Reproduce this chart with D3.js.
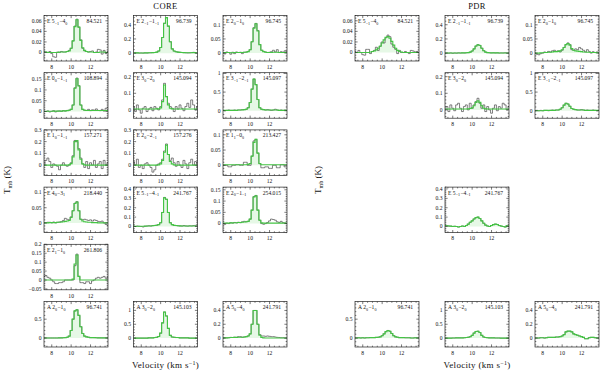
<!DOCTYPE html>
<html><head><meta charset="utf-8">
<script src="https://cdn.jsdelivr.net/npm/d3@7"></script>
<style>
body{margin:0;background:#fff}
svg{display:block}
text{font-family:"Liberation Serif","DejaVu Serif",serif;fill:#111}
</style>
</head><body>
<svg id="chart" width="600" height="372"></svg>
<script>
// ---------- DATA ----------
const velocity = [7.2,7.4,7.6,7.8,8.0,8.2,8.4,8.6,8.8,9.0,9.2,9.4,9.6,9.8,10.0,10.2,10.4,10.6,10.8,11.0,11.2,11.4,11.6,11.8,12.0,12.2,12.4,12.6,12.8,13.0,13.2,13.4,13.6,13.8];
const velocityTicks = [8,10,12];
const groupTitles = ["CORE","PDR"];

// CORE spectra (observed = grey, fit = green)
const coreE84521Obs = [0.002,0.001,0.000,0.002,-0.002,-0.008,-0.009,0.001,0.000,0.002,0.001,0.001,0.002,0.004,0.008,0.022,0.050,0.063,0.048,0.024,0.008,0.003,0.002,0.001,0.002,0.003,0.000,0.001,0.006,0.005,-0.003,0.004,-0.002,0.002];
const coreE84521Fit = [0.001,0.001,0.000,0.000,0.000,0.000,0.000,0.000,0.001,0.001,0.001,0.001,0.002,0.003,0.008,0.022,0.049,0.062,0.048,0.023,0.009,0.004,0.002,0.001,0.001,0.001,0.000,0.000,0.000,0.001,0.001,0.001,0.000,0.000];
const coreE96739Obs = [0.005,0.003,0.004,0.002,0.003,0.001,0.004,0.003,0.005,0.006,0.008,0.010,0.015,0.030,0.080,0.220,0.420,0.500,0.380,0.160,0.060,0.030,0.020,0.015,0.012,0.010,0.008,0.006,0.004,0.005,0.008,0.012,0.006,0.004];
const coreE96739Fit = [0.004,0.004,0.004,0.003,0.003,0.003,0.004,0.004,0.005,0.006,0.008,0.010,0.015,0.030,0.080,0.220,0.420,0.500,0.380,0.160,0.060,0.030,0.020,0.015,0.012,0.010,0.008,0.006,0.005,0.005,0.006,0.008,0.006,0.004];
const coreE96745Obs = [0.000,-0.003,0.004,0.002,-0.004,0.003,-0.002,0.004,0.002,0.003,-0.002,0.003,0.004,0.006,0.012,0.040,0.090,0.105,0.080,0.030,0.010,0.006,0.004,0.002,0.003,0.005,0.010,0.004,0.012,0.002,0.005,0.003,0.008,0.004];
const coreE96745Fit = [0.002,0.002,0.002,0.002,0.001,0.001,0.002,0.002,0.002,0.002,0.002,0.003,0.003,0.005,0.012,0.040,0.088,0.104,0.078,0.030,0.010,0.005,0.003,0.002,0.002,0.002,0.003,0.003,0.003,0.002,0.002,0.002,0.002,0.002];
const coreE108894Obs = [0.002,0.000,0.003,-0.002,0.001,0.004,-0.002,0.002,0.003,0.001,0.004,0.002,0.005,0.006,0.010,0.030,0.110,0.155,0.120,0.030,0.010,0.006,0.005,0.010,0.004,0.008,0.006,0.012,0.005,0.004,0.010,0.002,0.015,0.018];
const coreE108894Fit = [0.001,0.001,0.001,0.001,0.001,0.002,0.002,0.002,0.002,0.002,0.003,0.003,0.004,0.006,0.010,0.030,0.108,0.152,0.118,0.030,0.010,0.006,0.005,0.005,0.005,0.005,0.005,0.005,0.005,0.005,0.005,0.005,0.005,0.005];
const coreE145094Obs = [0.020,-0.010,0.030,0.000,-0.020,0.010,0.020,-0.010,0.005,0.015,-0.005,0.020,0.010,0.000,0.020,0.060,0.160,0.080,0.040,0.020,0.010,-0.010,0.020,0.005,0.030,0.010,-0.005,0.020,0.040,0.015,0.060,0.030,0.000,0.020];
const coreE145094Fit = [0.005,0.005,0.005,0.005,0.005,0.005,0.005,0.005,0.005,0.005,0.005,0.005,0.006,0.006,0.012,0.050,0.150,0.080,0.030,0.010,0.006,0.005,0.005,0.005,0.005,0.005,0.005,0.005,0.005,0.005,0.005,0.005,0.005,0.005];
const coreE145097Obs = [0.01,0.00,0.01,0.02,0.01,0.01,0.02,0.01,0.02,0.02,0.03,0.03,0.04,0.08,0.22,0.58,0.85,0.70,0.30,0.08,0.04,0.03,0.02,0.03,0.02,0.01,0.02,0.04,0.02,0.01,0.02,0.01,0.02,0.01];
const coreE145097Fit = [0.01,0.01,0.01,0.01,0.01,0.01,0.01,0.01,0.02,0.02,0.02,0.03,0.04,0.08,0.22,0.58,0.85,0.70,0.30,0.08,0.04,0.03,0.02,0.02,0.02,0.02,0.02,0.02,0.02,0.01,0.01,0.01,0.01,0.01];
const coreE157271Obs = [0.000,0.040,0.060,0.030,-0.020,0.010,0.000,-0.010,-0.040,0.000,0.020,0.000,-0.010,0.000,0.020,0.080,0.210,0.200,0.140,0.060,0.010,-0.020,0.030,-0.030,0.020,0.000,0.040,-0.020,0.010,0.030,-0.030,0.040,0.000,0.020];
const coreE157271Fit = [0.000,0.000,0.000,0.000,0.000,0.000,0.000,0.000,0.000,0.000,0.000,0.000,0.000,0.002,0.012,0.070,0.200,0.210,0.130,0.050,0.010,0.002,0.000,0.000,0.000,0.000,0.000,0.000,0.000,0.000,0.000,0.000,0.000,0.000];
const coreE157276Obs = [0.030,0.000,0.050,-0.020,0.000,-0.030,0.010,0.020,0.000,-0.020,-0.060,-0.040,0.000,0.010,0.020,0.050,0.120,0.180,0.090,0.040,0.060,0.020,-0.010,0.030,0.000,-0.020,0.040,0.010,-0.030,0.020,0.050,0.000,0.030,-0.010];
const coreE157276Fit = [0.000,0.000,0.000,0.000,0.000,0.000,0.000,0.000,0.000,0.000,0.000,0.000,0.000,0.002,0.010,0.040,0.110,0.170,0.090,0.030,0.010,0.002,0.000,0.000,0.000,0.000,0.000,0.000,0.000,0.000,0.000,0.000,0.000,0.000];
const coreE213427Obs = [0.000,0.000,0.000,-0.005,-0.005,0.000,0.000,0.002,0.002,0.000,0.000,0.010,0.010,0.000,0.000,0.030,0.080,0.085,0.040,0.005,-0.008,-0.008,-0.005,-0.005,-0.010,-0.010,0.000,0.000,-0.008,-0.008,0.002,0.002,-0.005,-0.005];
const coreE213427Fit = [0.002,0.002,0.002,0.002,0.002,0.002,0.002,0.002,0.002,0.002,0.002,0.002,0.002,0.003,0.006,0.030,0.075,0.085,0.040,0.006,0.002,0.002,0.002,0.002,0.002,0.002,0.002,0.002,0.002,0.002,0.002,0.002,0.002,0.002];
const coreE218440Obs = [0.000,0.000,0.002,0.002,0.000,0.003,0.000,0.002,0.003,0.004,0.008,0.015,0.012,0.010,0.020,0.040,0.065,0.070,0.040,0.012,0.010,0.012,0.010,0.008,0.010,0.006,0.010,0.008,0.005,0.004,0.006,0.000,-0.005,-0.008];
const coreE218440Fit = [0.000,0.000,0.000,0.001,0.001,0.001,0.001,0.002,0.002,0.003,0.004,0.005,0.006,0.008,0.018,0.040,0.064,0.069,0.040,0.012,0.006,0.004,0.003,0.002,0.002,0.001,0.001,0.001,0.000,0.000,0.000,0.000,0.000,0.000];
const coreE241767Obs = [0.005,0.000,0.005,0.002,0.000,-0.005,0.003,0.005,0.008,0.006,0.010,0.012,0.015,0.020,0.040,0.150,0.310,0.290,0.150,0.040,0.020,0.012,0.010,0.008,0.006,0.005,0.010,0.006,0.004,0.008,0.006,0.010,0.012,0.008];
const coreE241767Fit = [0.004,0.003,0.003,0.003,0.003,0.003,0.004,0.005,0.006,0.006,0.008,0.010,0.014,0.020,0.040,0.150,0.305,0.290,0.150,0.040,0.020,0.012,0.010,0.008,0.007,0.006,0.006,0.006,0.006,0.006,0.006,0.006,0.006,0.006];
const coreE254015Obs = [0.000,-0.003,0.002,0.000,0.004,0.002,0.005,0.003,0.006,0.004,0.008,0.010,0.008,0.010,0.020,0.060,0.120,0.125,0.060,0.015,0.000,-0.003,0.000,0.005,0.012,0.020,0.018,0.015,0.008,0.005,0.010,0.004,0.003,0.000];
const coreE254015Fit = [0.002,0.002,0.002,0.002,0.003,0.003,0.004,0.004,0.005,0.005,0.006,0.007,0.008,0.010,0.020,0.060,0.118,0.123,0.060,0.015,0.003,0.002,0.002,0.002,0.002,0.002,0.002,0.002,0.002,0.002,0.002,0.002,0.002,0.002];
const coreE261806Obs = [0.020,0.025,0.015,0.010,0.000,-0.010,-0.020,-0.020,-0.015,-0.015,-0.010,0.000,0.000,0.000,0.000,0.000,0.080,0.145,0.020,-0.015,-0.015,-0.020,-0.010,-0.010,-0.020,-0.005,0.000,0.010,0.015,0.010,0.015,0.020,0.010,0.015];
const coreE261806Fit = [0.000,0.000,0.000,0.000,0.000,0.000,0.000,0.000,0.000,0.000,0.000,0.000,0.000,0.000,0.000,0.005,0.090,0.140,0.020,0.000,0.000,0.000,0.000,0.000,0.000,0.000,0.000,0.000,0.000,0.000,0.000,0.000,0.000,0.000];
const coreA96741Obs = [0.000,0.000,0.000,0.000,0.000,0.000,0.000,0.000,0.002,0.004,0.006,0.010,0.020,0.050,0.200,0.500,0.720,0.750,0.600,0.300,0.120,0.050,0.030,0.020,0.010,0.010,0.008,0.005,0.004,0.003,0.002,0.002,0.001,0.001];
const coreA96741Fit = [0.000,0.000,0.000,0.000,0.000,0.000,0.000,0.000,0.002,0.004,0.006,0.010,0.020,0.050,0.200,0.500,0.720,0.750,0.600,0.300,0.120,0.050,0.030,0.020,0.010,0.010,0.008,0.005,0.004,0.003,0.002,0.002,0.001,0.001];
const coreA145103Obs = [0.00,0.00,0.00,0.00,0.00,0.00,0.00,0.00,0.01,0.01,0.01,0.02,0.03,0.06,0.18,0.55,0.94,0.80,0.35,0.10,0.04,0.03,0.02,0.02,0.01,0.01,0.01,0.01,0.01,0.00,0.00,0.00,0.00,0.00];
const coreA145103Fit = [0.00,0.00,0.00,0.00,0.00,0.00,0.00,0.00,0.01,0.01,0.01,0.02,0.03,0.06,0.18,0.55,0.94,0.80,0.35,0.10,0.04,0.03,0.02,0.02,0.01,0.01,0.01,0.01,0.01,0.00,0.00,0.00,0.00,0.00];
const coreA241791Obs = [0.000,0.002,0.003,0.005,0.010,0.008,0.012,0.010,0.020,0.020,0.012,0.015,0.020,0.030,0.060,0.200,0.400,0.400,0.200,0.050,0.030,0.030,0.025,0.030,0.025,0.020,0.020,0.015,0.010,0.008,0.005,0.005,0.000,0.000];
const coreA241791Fit = [0.000,0.002,0.003,0.005,0.008,0.008,0.010,0.010,0.012,0.012,0.012,0.015,0.020,0.030,0.060,0.200,0.400,0.400,0.200,0.040,0.010,0.002,0.000,0.000,0.000,0.000,0.000,0.000,0.000,0.000,0.000,0.000,0.000,0.000];

// PDR spectra
const pdrE84521Obs = [0.002,0.000,0.004,0.000,-0.004,-0.005,0.006,0.006,-0.002,0.002,0.004,0.010,0.004,0.012,0.020,0.018,0.028,0.033,0.030,0.016,0.010,0.006,-0.002,0.004,0.000,0.000,0.002,0.000,-0.002,0.004,0.003,0.001,0.002,0.000];
const pdrE84521Fit = [0.000,0.000,0.000,0.000,0.000,0.000,0.000,0.000,0.001,0.002,0.003,0.005,0.008,0.012,0.018,0.024,0.029,0.030,0.027,0.021,0.014,0.008,0.004,0.002,0.001,0.000,0.000,0.000,0.000,0.000,0.000,0.000,0.000,0.000];
const pdrE96739Obs = [0.000,0.003,0.000,0.004,-0.002,0.003,0.000,0.005,0.002,0.004,0.003,0.005,0.008,0.015,0.030,0.060,0.100,0.120,0.110,0.070,0.035,0.015,0.008,0.005,0.004,0.006,0.003,0.005,0.002,0.004,0.003,0.006,0.002,0.003];
const pdrE96739Fit = [0.002,0.002,0.002,0.002,0.002,0.002,0.002,0.003,0.003,0.004,0.004,0.005,0.008,0.015,0.030,0.060,0.100,0.118,0.108,0.070,0.035,0.015,0.008,0.005,0.004,0.004,0.004,0.004,0.003,0.003,0.003,0.003,0.003,0.003];
const pdrE96745Obs = [0.000,-0.004,-0.006,-0.002,0.000,0.004,0.002,0.006,0.004,0.008,0.010,0.006,0.008,0.004,0.010,0.020,0.030,0.036,0.030,0.012,0.010,0.015,0.012,0.020,0.015,0.010,0.004,0.012,0.006,0.000,0.005,0.002,0.004,0.000];
const pdrE96745Fit = [0.000,0.000,0.000,0.001,0.001,0.002,0.002,0.003,0.003,0.004,0.005,0.005,0.006,0.008,0.012,0.020,0.030,0.034,0.028,0.016,0.010,0.008,0.007,0.006,0.005,0.004,0.004,0.003,0.003,0.002,0.002,0.002,0.001,0.001];
const pdrE145094Obs = [0.000,0.020,-0.010,0.030,0.010,-0.005,0.030,0.040,0.010,-0.010,0.020,0.030,0.000,0.040,0.010,0.030,0.050,0.070,0.040,0.010,0.030,-0.010,0.020,0.000,-0.020,0.010,0.030,-0.005,0.020,0.010,0.040,0.030,0.000,0.020];
const pdrE145094Fit = [0.005,0.005,0.005,0.005,0.005,0.005,0.005,0.005,0.005,0.005,0.005,0.005,0.006,0.008,0.012,0.025,0.045,0.055,0.045,0.025,0.010,0.006,0.005,0.005,0.005,0.005,0.005,0.005,0.005,0.005,0.005,0.005,0.005,0.005];
const pdrE145097Obs = [0.00,0.01,0.00,0.01,0.00,0.01,0.01,0.00,0.01,0.02,0.01,0.02,0.02,0.04,0.08,0.15,0.20,0.18,0.12,0.06,0.04,0.03,0.02,0.02,0.03,0.02,0.01,0.02,0.01,0.01,0.02,0.01,0.00,0.01];
const pdrE145097Fit = [0.00,0.00,0.00,0.00,0.00,0.01,0.01,0.01,0.01,0.01,0.01,0.02,0.02,0.04,0.08,0.15,0.20,0.18,0.12,0.06,0.04,0.03,0.02,0.02,0.02,0.02,0.01,0.01,0.01,0.01,0.01,0.01,0.01,0.01];
const pdrE241767Obs = [0.010,0.008,0.005,0.004,0.000,0.002,0.000,-0.005,0.000,0.005,0.000,0.010,0.025,0.045,0.060,0.080,0.095,0.100,0.085,0.060,0.035,0.015,0.005,0.000,0.010,0.020,0.025,0.022,0.010,0.005,0.000,-0.005,0.008,0.005];
const pdrE241767Fit = [0.010,0.008,0.005,0.004,0.000,0.002,0.000,-0.005,0.000,0.005,0.000,0.010,0.025,0.045,0.060,0.080,0.095,0.100,0.085,0.060,0.035,0.015,0.005,0.000,0.010,0.020,0.025,0.022,0.010,0.005,0.000,-0.005,0.008,0.005];
const pdrA96741Obs = [0.000,0.000,0.005,0.000,0.005,0.000,0.005,0.005,0.010,0.010,0.010,0.015,0.020,0.030,0.060,0.110,0.170,0.200,0.180,0.120,0.060,0.030,0.020,0.010,0.010,0.010,0.005,0.005,0.005,0.000,0.000,0.005,0.000,0.000];
const pdrA96741Fit = [0.000,0.000,0.005,0.000,0.005,0.000,0.005,0.005,0.010,0.010,0.010,0.015,0.020,0.030,0.060,0.110,0.170,0.200,0.180,0.120,0.060,0.030,0.020,0.010,0.010,0.010,0.005,0.005,0.005,0.000,0.000,0.005,0.000,0.000];
const pdrA145103Obs = [0.000,0.000,0.000,0.000,0.005,0.005,0.010,0.010,0.010,0.010,0.015,0.020,0.030,0.050,0.100,0.180,0.240,0.250,0.200,0.100,0.040,0.020,0.015,0.010,0.010,0.010,0.005,0.005,0.005,0.000,0.000,0.000,0.000,0.000];
const pdrA145103Fit = [0.000,0.000,0.000,0.000,0.005,0.005,0.010,0.010,0.010,0.010,0.015,0.020,0.030,0.050,0.100,0.180,0.240,0.250,0.200,0.100,0.040,0.020,0.015,0.010,0.010,0.010,0.005,0.005,0.005,0.000,0.000,0.000,0.000,0.000];
const pdrA241791Obs = [0.000,0.000,0.000,0.005,0.005,0.000,0.005,0.010,0.010,0.010,0.010,0.015,0.015,0.020,0.030,0.050,0.090,0.100,0.100,0.090,0.060,0.050,0.040,0.030,0.020,0.010,-0.010,-0.010,0.005,0.010,0.010,0.005,0.000,0.000];
const pdrA241791Fit = [0.000,0.000,0.000,0.005,0.005,0.000,0.005,0.010,0.010,0.010,0.010,0.015,0.015,0.020,0.030,0.050,0.090,0.100,0.100,0.090,0.060,0.050,0.040,0.030,0.020,0.010,-0.010,-0.010,0.005,0.010,0.010,0.005,0.000,0.000];

// Transition labels, frequencies (GHz), y-ranges and y tick labels per line
const lineLabels = {
  E84521:"E 5_{−1}−4_{0}", E96739:"E 2_{−1}−1_{−1}", E96745:"E 2_{0}−1_{0}",
  E108894:"E 0_{0}−1_{−1}", E145094:"E 3_{0}−2_{0}", E145097:"E 3_{−1}−2_{−1}",
  E157271:"E 1_{0}−1_{−1}", E157276:"E 2_{0}−2_{−1}", E213427:"E 1_{1}−0_{0}",
  E218440:"E 4_{0}−3_{1}", E241767:"E 5_{−1}−4_{−1}", E254015:"E 2_{0}−1_{−1}",
  E261806:"E 2_{1}−1_{0}", A96741:"A 2_{0}−1_{0}", A145103:"A 3_{0}−2_{0}", A241791:"A 5_{0}−4_{0}"
};
const lineFreqs = {
  E84521:"84.521", E96739:"96.739", E96745:"96.745", E108894:"108.894", E145094:"145.094",
  E145097:"145.097", E157271:"157.271", E157276:"157.276", E213427:"213.427", E218440:"218.440",
  E241767:"241.767", E254015:"254.015", E261806:"261.806", A96741:"96.741", A145103:"145.103", A241791:"241.791"
};
const yRanges = {
  E84521:[-0.016,0.07], E96739:[-0.11,0.53], E96745:[-0.028,0.133], E108894:[-0.031,0.18],
  E145094:[-0.05,0.224], E145097:[-0.2,1.02], E157271:[-0.088,0.30], E157276:[-0.088,0.30],
  E213427:[-0.033,0.116], E218440:[-0.032,0.118], E241767:[-0.065,0.42], E254015:[-0.04,0.162],
  E261806:[-0.055,0.2], A96741:[-0.24,0.97], A145103:[-0.32,1.32], A241791:[-0.13,0.53]
};
const yTickLabels = {
  E84521:[0,0.02,0.04,0.06], E96739:[0,0.2,0.4], E96745:[0,0.05,0.1], E108894:[0,0.05,0.1,0.15],
  E145094:[0,0.1,0.2], E145097:[0,0.5,1], E157271:[0,0.1,0.2,0.3], E157276:[0,0.1,0.2,0.3],
  E213427:[0,0.05,0.1], E218440:[0,0.05,0.1], E241767:[0,0.1,0.2,0.3,0.4], E254015:[0,0.05,0.1,0.15],
  E261806:[-0.05,0,0.05,0.1,0.15,0.2], A96741:[0,0.5], A145103:[0,0.5,1], A241791:[0,0.2,0.4]
};

const coreSpectra = [
  ["E84521",coreE84521Obs,coreE84521Fit],["E96739",coreE96739Obs,coreE96739Fit],["E96745",coreE96745Obs,coreE96745Fit],
  ["E108894",coreE108894Obs,coreE108894Fit],["E145094",coreE145094Obs,coreE145094Fit],["E145097",coreE145097Obs,coreE145097Fit],
  ["E157271",coreE157271Obs,coreE157271Fit],["E157276",coreE157276Obs,coreE157276Fit],["E213427",coreE213427Obs,coreE213427Fit],
  ["E218440",coreE218440Obs,coreE218440Fit],["E241767",coreE241767Obs,coreE241767Fit],["E254015",coreE254015Obs,coreE254015Fit],
  ["E261806",coreE261806Obs,coreE261806Fit],
  ["A96741",coreA96741Obs,coreA96741Fit],["A145103",coreA145103Obs,coreA145103Fit],["A241791",coreA241791Obs,coreA241791Fit]
];
const pdrSpectra = [
  ["E84521",pdrE84521Obs,pdrE84521Fit],["E96739",pdrE96739Obs,pdrE96739Fit],["E96745",pdrE96745Obs,pdrE96745Fit],
  ["E145094",pdrE145094Obs,pdrE145094Fit],["E145097",pdrE145097Obs,pdrE145097Fit],
  ["E241767",pdrE241767Obs,pdrE241767Fit],
  ["A96741",pdrA96741Obs,pdrA96741Fit],["A145103",pdrA145103Obs,pdrA145103Fit],["A241791",pdrA241791Obs,pdrA241791Fit]
];

// ---------- LAYOUT ----------
const gridSlot = { // [column,row] in the panel grid
  E84521:[0,0], E96739:[1,0], E96745:[2,0], E108894:[0,1], E145094:[1,1], E145097:[2,1],
  E157271:[0,2], E157276:[1,2], E213427:[2,2], E218440:[0,3], E241767:[1,3], E254015:[2,3],
  E261806:[0,4], A96741:[0,5], A145103:[1,5], A241791:[2,5]
};
const groupLeft = [44, 355];
const colStep = [89.5, 90];
const PW = 64, PH = 45.5;
const rowTop = r => 15.5 + 57.2*r;

const svg = d3.select("#chart");
const fmt = v => (v === 0 ? "0" : String(+v.toFixed(3))).replace("-", "−");

function minorStep(major){
  const e = Math.pow(10, Math.floor(Math.log10(major) + 1e-9));
  const lead = Math.round(major / e);
  return lead === 2 ? major/4 : major/5;
}

function addLabel(g, x, y, str, size){
  const t = g.append("text").attr("x", x).attr("y", y).attr("font-size", size);
  const re = /([^_]+)|_\{([^}]*)\}/g; let m;
  while ((m = re.exec(str))){
    if (m[1] !== undefined) t.append("tspan").text(m[1]);
    else {
      t.append("tspan").attr("dy", size*0.3).attr("font-size", size*0.72).text(m[2]);
      t.append("tspan").attr("dy", -size*0.3).text("\u200a");
    }
  }
  return t;
}

let clipId = 0;
function drawPanel(group, key, obs, fit){
  const [c, r] = gridSlot[key];
  const x0 = groupLeft[group] + colStep[group]*c, y0 = rowTop(r);
  const g = svg.append("g").attr("transform", `translate(${x0},${y0})`);
  const x = d3.scaleLinear().domain([velocity[0], velocity[velocity.length-1]]).range([0, PW]);
  const y = d3.scaleLinear().domain(yRanges[key]).range([PH, 0]);
  const id = "clip" + (clipId++);
  g.append("clipPath").attr("id", id).append("rect").attr("width", PW).attr("height", PH);
  const pg = g.append("g").attr("clip-path", `url(#${id})`);

  const area = d3.area().curve(d3.curveStep).x((d,i)=>x(velocity[i])).y0(y(0)).y1(d=>y(Math.max(d,0)));
  pg.append("path").datum(fit).attr("d", area).attr("fill", "#e6f8e6");
  const line = d3.line().curve(d3.curveStep).x((d,i)=>x(velocity[i])).y(d=>y(d));
  pg.append("path").datum(obs).attr("d", line).attr("fill","none").attr("stroke","#4a4a4a").attr("stroke-width",0.7);
  pg.append("path").datum(fit).attr("d", line).attr("fill","none").attr("stroke","#44c444").attr("stroke-width",1.1);

  // frame
  g.append("rect").attr("width", PW).attr("height", PH).attr("fill","none").attr("stroke","#222").attr("stroke-width",0.7);

  // ticks on all four sides (inward)
  const tk = g.append("g").attr("stroke","#222").attr("stroke-width",0.6);
  const xMinor = d3.range(7.5, 13.8, 0.5);
  xMinor.forEach(v => {
    const major = velocityTicks.includes(v);
    const L = major ? 2.6 : 1.3;
    tk.append("line").attr("x1",x(v)).attr("x2",x(v)).attr("y1",PH).attr("y2",PH-L);
    tk.append("line").attr("x1",x(v)).attr("x2",x(v)).attr("y1",0).attr("y2",L);
  });
  const yt = yTickLabels[key];
  const majorStep = yt[1]-yt[0];
  const ms = minorStep(majorStep);
  const [lo, hi] = yRanges[key];
  for (let k = Math.ceil(lo/ms - 1e-6); k*ms <= hi + 1e-9; k++){
    const v = k*ms;
    const isMajor = Math.abs(v/majorStep - Math.round(v/majorStep)) < 1e-6;
    const L = isMajor ? 2.6 : 1.3;
    tk.append("line").attr("x1",0).attr("x2",L).attr("y1",y(v)).attr("y2",y(v));
    tk.append("line").attr("x1",PW).attr("x2",PW-L).attr("y1",y(v)).attr("y2",y(v));
  }
  // y tick labels
  yt.forEach(v => {
    g.append("text").attr("x",-2.5).attr("y",y(v)+1.9).attr("text-anchor","end").attr("font-size",5.6).text(fmt(v));
  });
  // x tick labels
  velocityTicks.forEach(v => {
    g.append("text").attr("x",x(v)).attr("y",PH+7.8).attr("text-anchor","middle").attr("font-size",5.6).text(v);
  });
  // line label and frequency
  addLabel(g, 3, 7.6, lineLabels[key], 5.6);
  g.append("text").attr("x",PW-6).attr("y",7.6).attr("text-anchor","end").attr("font-size",5.6).text(lineFreqs[key]);
}

coreSpectra.forEach(([k,o,f]) => drawPanel(0,k,o,f));
pdrSpectra.forEach(([k,o,f]) => drawPanel(1,k,o,f));

// titles & axis labels
groupTitles.forEach((t, gi) => {
  const cx = groupLeft[gi] + colStep[gi] + PW/2;
  svg.append("text").attr("x",cx).attr("y",9).attr("text-anchor","middle").attr("font-size",8.5).attr("letter-spacing",0.4).text(t);
  const xl = svg.append("text").attr("x",cx).attr("y",368).attr("text-anchor","middle").attr("font-size",9).attr("letter-spacing",0.3);
  xl.append("tspan").text("Velocity (km s");
  xl.append("tspan").attr("dy",-3.5).attr("font-size",6).text("−1");
  xl.append("tspan").attr("dy",3.5).text(")");
  const yx = gi === 0 ? 10 : 321;
  const yl = svg.append("text").attr("transform",`translate(${yx},180) rotate(-90)`).attr("text-anchor","middle").attr("font-size",9);
  yl.append("tspan").text("T");
  yl.append("tspan").attr("dy",2).attr("font-size",6).text("mb");
  yl.append("tspan").attr("dy",-2).text(" (K)");
});
</script>
</body></html>
